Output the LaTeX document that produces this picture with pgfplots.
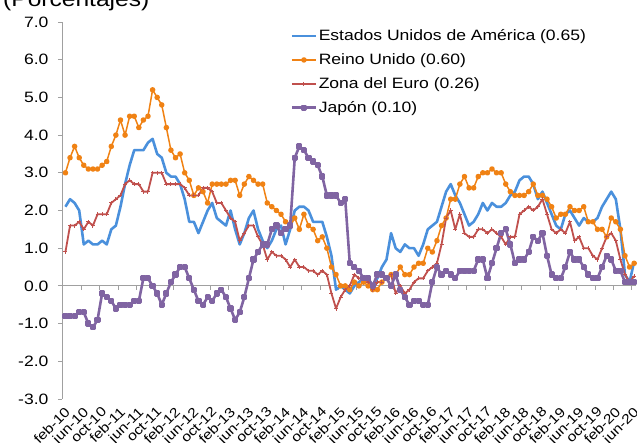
\documentclass[border=0pt]{standalone}
\usepackage{fontspec}
\setmainfont{Liberation Sans}[FakeStretch=1.17]
\usepackage{pgfplots}
\usepackage{pgfplotstable}
\pgfplotsset{compat=1.18}
\definecolor{cUS}{RGB}{74,144,220}
\definecolor{cUK}{RGB}{240,130,20}
\definecolor{cEZ}{RGB}{192,80,77}
\definecolor{cJP}{RGB}{128,100,162}
\definecolor{axgray}{RGB}{160,160,160}

\pgfplotstableread{
i us uk ez jp
0 2.1 3.0 0.9 -0.8
1 2.3 3.4 1.6 -0.8
2 2.2 3.7 1.6 -0.8
3 2.0 3.4 1.7 -0.7
4 1.1 3.2 1.5 -0.7
5 1.2 3.1 1.7 -1.0
6 1.1 3.1 1.6 -1.1
7 1.1 3.1 1.9 -0.9
8 1.2 3.2 1.9 -0.2
9 1.1 3.3 1.9 -0.3
10 1.5 3.7 2.2 -0.4
11 1.6 4.0 2.3 -0.6
12 2.1 4.4 2.4 -0.5
13 2.7 4.0 2.7 -0.5
14 3.2 4.5 2.8 -0.5
15 3.6 4.5 2.7 -0.4
16 3.6 4.2 2.7 -0.4
17 3.6 4.4 2.5 0.2
18 3.8 4.5 2.5 0.2
19 3.9 5.2 3.0 0.0
20 3.5 5.0 3.0 -0.2
21 3.4 4.8 3.0 -0.5
22 3.0 4.2 2.7 -0.2
23 2.9 3.6 2.7 0.1
24 2.9 3.4 2.7 0.3
25 2.7 3.5 2.7 0.5
26 2.3 3.0 2.6 0.5
27 1.7 2.8 2.4 0.2
28 1.7 2.4 2.4 -0.1
29 1.4 2.6 2.4 -0.4
30 1.7 2.5 2.6 -0.5
31 2.0 2.2 2.6 -0.3
32 2.2 2.7 2.5 -0.4
33 1.8 2.7 2.2 -0.2
34 1.7 2.7 2.2 -0.1
35 1.6 2.7 2.0 -0.3
36 2.0 2.8 1.8 -0.6
37 1.5 2.8 1.7 -0.9
38 1.1 2.4 1.2 -0.7
39 1.4 2.7 1.4 -0.3
40 1.8 2.9 1.6 0.2
41 2.0 2.8 1.6 0.7
42 1.5 2.7 1.3 0.9
43 1.2 2.7 1.1 1.1
44 1.0 2.2 0.7 1.1
45 1.2 2.1 0.9 1.5
46 1.5 2.0 0.8 1.6
47 1.6 1.9 0.8 1.4
48 1.1 1.7 0.7 1.5
49 1.5 1.6 0.5 1.6
50 2.0 1.8 0.7 3.4
51 2.1 1.5 0.5 3.7
52 2.1 1.9 0.5 3.6
53 2.0 1.6 0.4 3.4
54 1.7 1.5 0.4 3.3
55 1.7 1.2 0.3 3.2
56 1.7 1.3 0.4 2.9
57 1.3 1.0 0.3 2.4
58 0.8 0.5 -0.2 2.4
59 -0.1 0.3 -0.6 2.4
60 0.0 0.0 -0.3 2.2
61 -0.1 0.0 -0.1 2.3
62 -0.2 -0.1 0.0 0.6
63 0.0 0.1 0.3 0.5
64 0.1 0.0 0.2 0.4
65 0.2 0.1 0.2 0.2
66 0.2 0.0 0.1 0.2
67 0.0 -0.1 -0.1 0.0
68 0.2 -0.1 0.1 0.3
69 0.5 0.1 0.1 0.3
70 0.7 0.2 0.2 0.2
71 1.4 0.3 0.3 0.0
72 1.0 0.3 -0.2 0.3
73 0.9 0.5 0.0 -0.1
74 1.1 0.3 -0.2 -0.3
75 1.0 0.3 -0.1 -0.5
76 1.0 0.5 0.1 -0.4
77 0.8 0.6 0.2 -0.4
78 1.1 0.6 0.2 -0.5
79 1.5 1.0 0.4 -0.5
80 1.6 0.9 0.5 0.1
81 1.7 1.2 0.6 0.5
82 2.1 1.6 1.1 0.3
83 2.5 1.8 1.8 0.4
84 2.7 2.3 2.0 0.3
85 2.4 2.3 1.5 0.2
86 2.2 2.7 1.9 0.4
87 1.9 2.9 1.4 0.4
88 1.6 2.6 1.3 0.4
89 1.7 2.6 1.3 0.4
90 1.9 2.9 1.5 0.7
91 2.2 3.0 1.5 0.7
92 2.0 3.0 1.4 0.2
93 2.2 3.1 1.5 0.6
94 2.1 3.0 1.4 1.0
95 2.1 3.0 1.3 1.4
96 2.2 2.7 1.1 1.5
97 2.4 2.5 1.3 1.1
98 2.5 2.4 1.3 0.6
99 2.8 2.4 1.9 0.7
100 2.9 2.4 2.0 0.7
101 2.9 2.5 2.1 0.9
102 2.7 2.7 2.0 1.3
103 2.3 2.4 2.1 1.2
104 2.5 2.4 2.3 1.4
105 2.2 2.3 1.9 0.8
106 1.9 2.1 1.5 0.3
107 1.6 1.8 1.4 0.2
108 1.5 1.9 1.5 0.2
109 1.9 1.9 1.4 0.5
110 2.0 2.1 1.7 0.9
111 1.8 2.0 1.2 0.7
112 1.6 2.0 1.3 0.7
113 1.8 2.1 1.0 0.5
114 1.7 1.7 1.0 0.3
115 1.7 1.7 0.8 0.2
116 1.8 1.5 0.7 0.2
117 2.1 1.5 1.0 0.5
118 2.3 1.3 1.3 0.8
119 2.5 1.8 1.4 0.7
120 2.3 1.7 1.2 0.4
121 1.5 1.5 0.7 0.4
122 0.3 0.8 0.3 0.1
123 0.1 0.5 0.1 0.1
124 0.65 0.6 0.26 0.1
}\data

\begin{document}
\begin{tikzpicture}[font=\fontsize{15}{18}\selectfont]
\useasboundingbox (0,0) rectangle (637pt,443pt);
\node[anchor=base west, inner sep=0pt, font=\fontsize{21}{25}\selectfont] at (3pt,436.5pt) {(Porcentajes)};
\begin{axis}[
  at={(62pt,44pt)}, anchor=south west,
  scale only axis, width=574pt, height=377pt,
  xmin=-0.75, xmax=124.4, ymin=-3, ymax=7,
  axis y line*=left, axis x line*=bottom,
  x axis line style={draw=none},
  y axis line style={draw=axgray, line width=0.8pt},
  tick align=outside,
  major tick length=4pt,
  ytick={-3,-2,...,7},
  ytick style={draw=axgray, line width=0.8pt},
  yticklabel={\pgfmathprintnumber[fixed,fixed zerofill,precision=1,assume math mode=true]{\tick}},
  yticklabel style={xshift=-6pt},
  xtick={0,4,...,124},
  xtick style={draw=none},
  xticklabels={feb-10,jun-10,oct-10,feb-11,jun-11,oct-11,feb-12,jun-12,oct-12,feb-13,jun-13,oct-13,feb-14,jun-14,oct-14,feb-15,jun-15,oct-15,feb-16,jun-16,oct-16,feb-17,jun-17,oct-17,feb-18,jun-18,oct-18,feb-19,jun-19,oct-19,feb-20,jun-20},
  xticklabel style={rotate=45, anchor=north east, inner sep=0pt, xshift=-3pt, yshift=-1pt, font=\fontsize{13.5}{16}\selectfont},
  extra y ticks={0},
  extra y tick labels={},
  extra y tick style={grid=major, major grid style={draw=axgray, line width=0.8pt}, major tick length=0pt},
  legend style={at={(0.398,0.984)}, anchor=north west, draw=none, fill=none,
    font=\fontsize{15}{18}\selectfont, row sep=8.5pt, inner sep=0pt,
    nodes={inner sep=1.5pt}},
  legend cell align=left,
  legend image code/.code={\draw[mark repeat=2,mark phase=2,#1] plot coordinates {(0pt,0pt) (12pt,0pt) (24pt,0pt)};},
]
\pgfplotsinvokeforeach{3.5,7.5,11.5,15.5,19.5,23.5,27.5,31.5,35.5,39.5,43.5,47.5,51.5,55.5,59.5,63.5,67.5,71.5,75.5,79.5,83.5,87.5,91.5,95.5,99.5,103.5,107.5,111.5,115.5,119.5,123.5}{
  \draw[axgray, line width=0.8pt] (axis cs:#1,0) -- ++(0pt,-4pt);
}
\addplot[cUS, line width=2.6pt, line join=round, no marks] table[x=i,y=us]{\data};
\addlegendentry{Estados Unidos de América (0.65)}
\addplot[cUK, line width=1.5pt, line join=round, mark=*, mark size=2pt, mark options={solid}] table[x=i,y=uk]{\data};
\addlegendentry{Reino Unido (0.60)}
\addplot[cEZ, line width=1.8pt, line join=round, mark=+, mark size=2pt, mark options={solid, line width=1pt}] table[x=i,y=ez]{\data};
\addlegendentry{Zona del Euro (0.26)}
\addplot[cJP, line width=2.6pt, line join=round, mark=square*, mark size=1.8pt, mark options={solid}] table[x=i,y=jp]{\data};
\addlegendentry{Japón (0.10)}
\end{axis}
\end{tikzpicture}
\end{document}
